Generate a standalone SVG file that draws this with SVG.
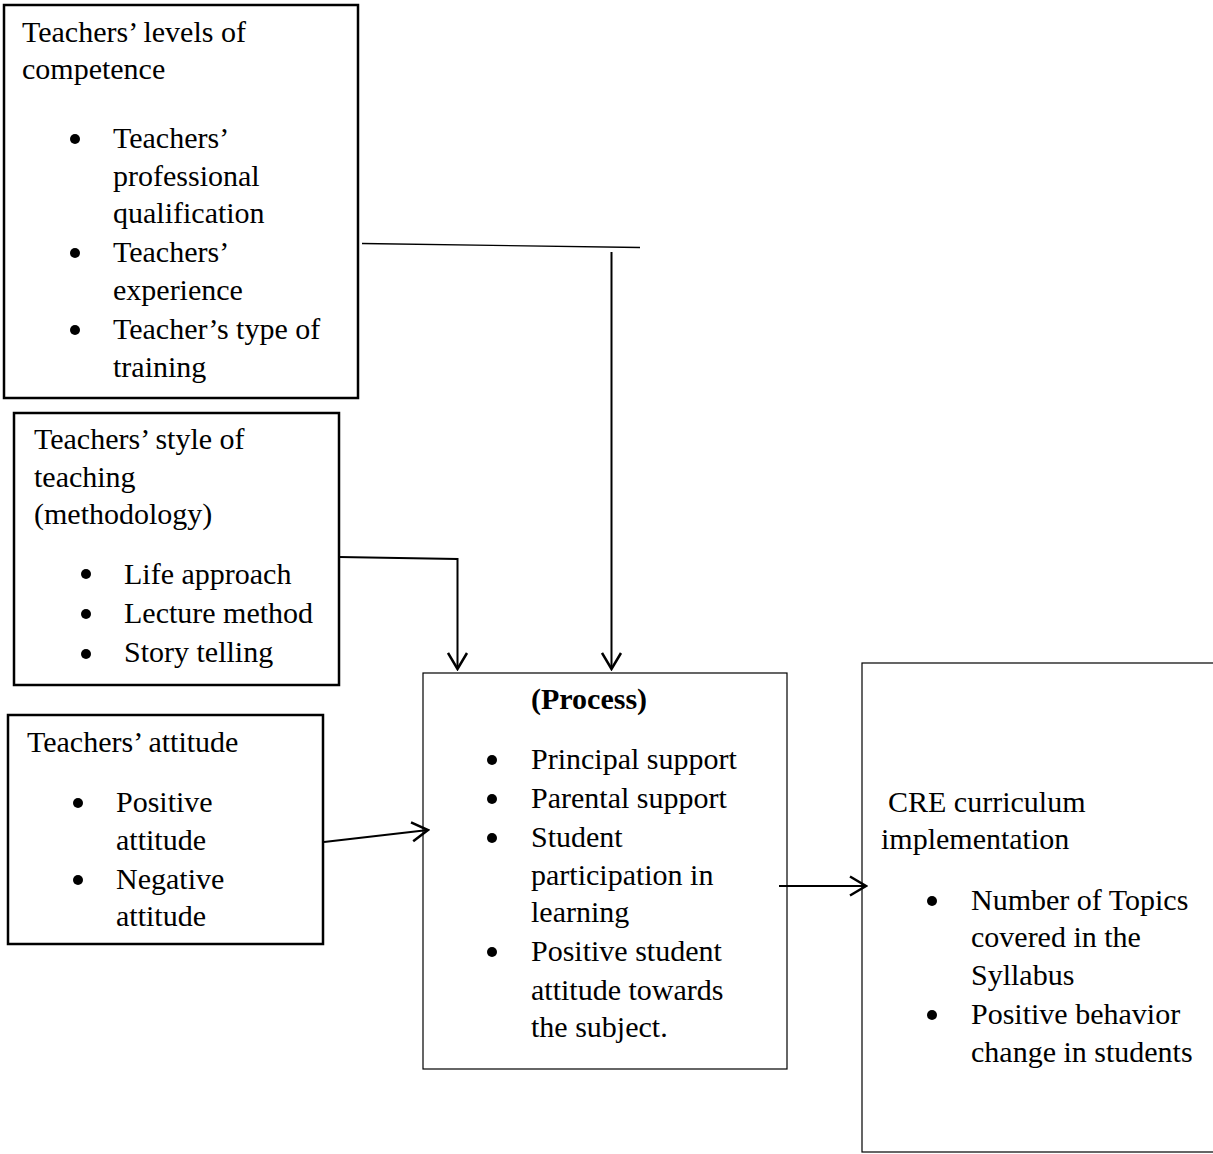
<svg xmlns="http://www.w3.org/2000/svg" width="1213" height="1154" viewBox="0 0 1213 1154">
<style>
text{font-family:"Liberation Serif","Times New Roman",serif;font-size:30px;fill:#000}
.b{fill:#000}
.thick{fill:#fff;stroke:#000;stroke-width:2.5}
.thin{fill:#fff;stroke:#000;stroke-width:1.2}
.con{fill:none;stroke:#000;stroke-width:2}
.bold{font-weight:bold}
</style>
<defs>
<marker id="arr" viewBox="0 0 20 22" refX="18" refY="11" markerWidth="20" markerHeight="22" markerUnits="userSpaceOnUse" orient="auto">
<path d="M2,1.5 L18,11 L2,20.5" fill="none" stroke="#000" stroke-width="2.5"/>
</marker>
</defs>
<rect width="1213" height="1154" fill="#fff"/>
<g id="competence">
<rect class="thick" x="4" y="5" width="354" height="393"/>
<text x="22" y="42">Teachers’ levels of</text>
<text x="22" y="79">competence</text>
<circle class="b" cx="75" cy="139" r="5"/>
<text x="113" y="148">Teachers’</text>
<text x="113" y="186">professional</text>
<text x="113" y="223">qualification</text>
<circle class="b" cx="75" cy="253" r="5"/>
<text x="113" y="262">Teachers’</text>
<text x="113" y="300">experience</text>
<circle class="b" cx="75" cy="330" r="5"/>
<text x="113" y="339">Teacher’s type of</text>
<text x="113" y="377">training</text>
</g>
<g id="style">
<rect class="thick" x="14" y="413" width="325" height="272"/>
<text x="34" y="449">Teachers’ style of</text>
<text x="34" y="487">teaching</text>
<text x="34" y="524">(methodology)</text>
<circle class="b" cx="86" cy="574" r="5"/>
<text x="124" y="584">Life approach</text>
<circle class="b" cx="86" cy="614" r="5"/>
<text x="124" y="623">Lecture method</text>
<circle class="b" cx="86" cy="654" r="5"/>
<text x="124" y="662">Story telling</text>
</g>
<g id="attitude">
<rect class="thick" x="8" y="715" width="315" height="229"/>
<text x="27" y="752">Teachers’ attitude</text>
<circle class="b" cx="78" cy="803" r="5"/>
<text x="116" y="812">Positive</text>
<text x="116" y="850">attitude</text>
<circle class="b" cx="78" cy="880" r="5"/>
<text x="116" y="889">Negative</text>
<text x="116" y="926">attitude</text>
</g>
<g id="process">
<rect class="thin" x="423" y="673" width="364" height="396"/>
<text class="bold" x="531" y="709">(Process)</text>
<circle class="b" cx="492" cy="760" r="5"/>
<text x="531" y="769">Principal support</text>
<circle class="b" cx="492" cy="799" r="5"/>
<text x="531" y="808">Parental support</text>
<circle class="b" cx="492" cy="838" r="5"/>
<text x="531" y="847">Student</text>
<text x="531" y="885">participation in</text>
<text x="531" y="922">learning</text>
<circle class="b" cx="492" cy="952" r="5"/>
<text x="531" y="961">Positive student</text>
<text x="531" y="1000">attitude towards</text>
<text x="531" y="1037">the subject.</text>
</g>
<g id="cre">
<rect class="thin" x="862" y="663" width="370" height="489"/>
<text x="888" y="812">CRE curriculum</text>
<text x="881" y="849">implementation</text>
<circle class="b" cx="932" cy="901" r="5"/>
<text x="971" y="910">Number of Topics</text>
<text x="971" y="947">covered in the</text>
<text x="971" y="985">Syllabus</text>
<circle class="b" cx="932" cy="1015" r="5"/>
<text x="971" y="1024">Positive behavior</text>
<text x="971" y="1062">change in students</text>
</g>
<g id="connectors">
<line x1="362" y1="243.5" x2="640" y2="247.5" stroke="#000" stroke-width="1.3"/>
<line class="con" x1="611.5" y1="252" x2="611.5" y2="669" marker-end="url(#arr)"/>
<polyline class="con" points="339,557 457.5,559 457.5,669" marker-end="url(#arr)"/>
<line class="con" x1="324" y1="842" x2="428" y2="830" marker-end="url(#arr)"/>
<line class="con" x1="779" y1="886" x2="866" y2="886" marker-end="url(#arr)"/>
</g>
</svg>
